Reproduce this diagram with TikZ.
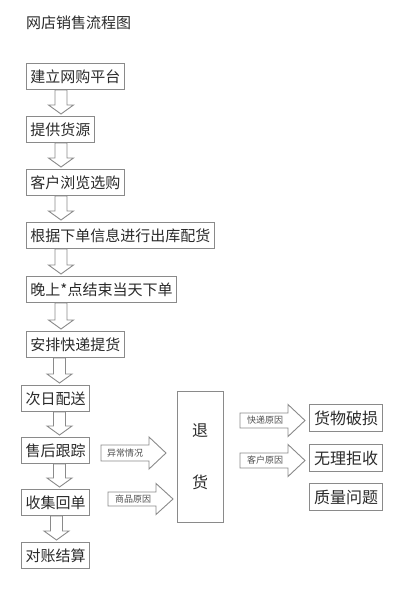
\documentclass[tikz,border=0pt]{standalone}
\usepackage{fontspec}
\setmainfont{Noto Sans CJK SC}
\usetikzlibrary{calc}
\definecolor{lc}{HTML}{8A8A8A}
\definecolor{tc}{HTML}{2A2A2A}
\definecolor{sc}{HTML}{505050}
\tikzset{
 stepbox/.style={draw=lc, line width=1pt, inner xsep=4pt, inner ysep=0pt, minimum height=26pt, anchor=north west, text=tc, font=\fontsize{15pt}{18pt}\selectfont},
 rbox/.style={stepbox, inner xsep=4.5pt, minimum height=27pt, font=\fontsize{16pt}{19pt}\selectfont},
 barrow/.style={draw=lc, line width=0.9pt, fill=white, line join=miter},
 lbl/.style={anchor=west, inner sep=0pt, text=sc, font=\fontsize{9pt}{10pt}\selectfont},
}
\newcommand\bdown[3]{\draw[barrow] let \p1=(#1.south), \p2=(#2.north) in (#3pt-6pt,\y1) -- (#3pt+6pt,\y1) -- (#3pt+6pt,\y2+11pt) -- (#3pt+12.5pt,\y2+11pt) -- (#3pt,\y2+2pt) -- (#3pt-12.5pt,\y2+11pt) -- (#3pt-6pt,\y2+11pt) -- cycle;}
\newcommand\bright[9]{\draw[barrow] (#2,#5-#6) -- (#3,#5-#6) -- (#3,#5-#7) -- (#4,#5) -- (#3,#5+#7) -- (#3,#5+#6) -- (#2,#5+#6) -- cycle;
 \node[lbl] (#1) at (#9,#5) {#8};}
\begin{document}
\begin{tikzpicture}[x=1pt,y=-1pt]
\useasboundingbox (0,0) rectangle (400,608);
\node[anchor=west, inner sep=0pt, text=tc, font=\fontsize{15pt}{18pt}\selectfont] (title) at (26,22.5) {网店销售流程图};
\node[stepbox] (b1) at (26,63) {建立网购平台};
\node[stepbox] (b2) at (26,116) {提供货源};
\node[stepbox] (b3) at (26,169) {客户浏览选购};
\node[stepbox] (b4) at (26,222) {根据下单信息进行出库配货};
\node[stepbox] (b5) at (26,276) {晚上*点结束当天下单};
\node[stepbox] (b6) at (26,331) {安排快递提货};
\node[stepbox] (b7) at (21,385) {次日配送};
\node[stepbox] (b8) at (21,437) {售后跟踪};
\node[stepbox] (b9) at (21,489) {收集回单};
\node[stepbox] (b10) at (21,542) {对账结算};
\bdown{b1}{b2}{61}
\bdown{b2}{b3}{61}
\bdown{b3}{b4}{61}
\bdown{b4}{b5}{61}
\bdown{b5}{b6}{61}
\bdown{b6}{b7}{59.5}
\bdown{b7}{b8}{59.5}
\bdown{b8}{b9}{59.5}
\bdown{b9}{b10}{56.5}
\node[draw=lc, line width=1pt, minimum width=46pt, minimum height=131pt, inner sep=0pt, align=center, text=tc, font=\fontsize{16pt}{19pt}\selectfont] (th) at (200,456.5) {退\\[33pt]货};
\node[rbox] (r1) at (309,404) {货物破损};
\node[rbox] (r2) at (309,444) {无理拒收};
\node[rbox] (r3) at (309,483) {质量问题};
\bright{l1}{101}{149}{166}{453}{8}{16}{异常情况}{107}
\bright{l2}{108}{156}{173}{499}{7}{15.5}{商品原因}{115}
\bright{l3}{240}{288}{305}{420.5}{7.5}{16}{快递原因}{247}
\bright{l4}{240}{288}{305}{460.5}{7.5}{16}{客户原因}{247}
\end{tikzpicture}
\end{document}
